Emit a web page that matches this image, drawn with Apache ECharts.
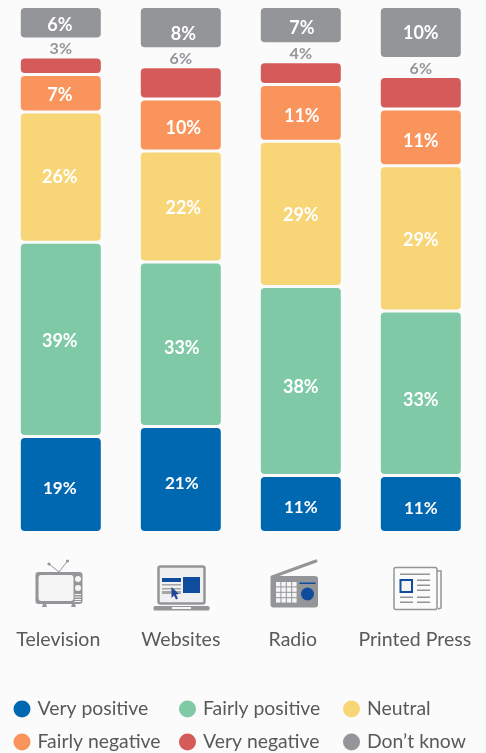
<!DOCTYPE html>
<html><head><meta charset="utf-8">
<style>html,body{margin:0;padding:0;background:#fbfbfb}#c{width:486px;height:753px}</style>
<script src="https://cdn.jsdelivr.net/npm/echarts@6/dist/echarts.min.js"></script>
</head><body><div id="c"></div>
<script>
const categories = ['Television', 'Websites', 'Radio', 'Printed Press'];
const veryPositive = [19, 21, 11, 11];
const fairlyPositive = [39, 33, 38, 33];
const neutral = [26, 22, 29, 29];
const fairlyNegative = [7, 10, 11, 11];
const veryNegative = [3, 6, 4, 6];
const dontKnow = [6, 8, 7, 10];

const FONT = 'Lato';
const BG = '#fbfbfb', GREY = '#939598', TEXT = '#595959', ICON_BLUE = '#0f4c9e';
const GAP = 0.612, LABEL_GAP = 4.286;          // spacers between stacked blocks, in axis units
const nudge = {                               // hand placement of in-bar labels [dx, dy]
  'Very positive':  [[-1,4.5],[1,4],[0,3.5],[0,4.5]],
  'Fairly positive':[[-1,1.5],[1,3.5],[0,6],[0,6.5]],
  'Neutral':        [[-1,0],[2.5,1.5],[0,1.5],[0,1.5]],
  'Fairly negative':[[-1,1.5],[2.5,3],[1,3],[0,3.5]],
  'Don’t know':     [[-1,2.5],[2.5,6.5],[1,3],[0,0.5]]
};
const labelShift = [5, 0, 16, 12];

const spec = [
  ['Very positive', veryPositive, '#0067b1', 17],
  ['Fairly positive', fairlyPositive, '#7fc9a7', 18],
  ['Neutral', neutral, '#f8d678', 18],
  ['Fairly negative', fairlyNegative, '#f8945c', 18],
  ['Very negative', veryNegative, '#d55b5b', 16],
  ['Don’t know', dontKnow, GREY, 18]
];
const series = [];
spec.forEach(function (s, si) {
  const name = s[0], isRed = name === 'Very negative';
  series.push({
    name: name, type: 'bar', stack: 'all', barWidth: 80,
    itemStyle: { color: s[2], borderRadius: 4 },
    emphasis: { disabled: true },
    data: s[1].map(function (v, i) {
      return isRed ? v : { value: v, label: { offset: nudge[name][i] } };
    }),
    label: {
      show: true, position: isRed ? 'top' : 'inside', distance: 1.5,
      formatter: '{c}%', fontFamily: FONT, fontWeight: 'bold', fontSize: s[3],
      color: isRed ? GREY : '#fff'
    }
  });
  if (si < spec.length - 1) {
    series.push({
      name: 'spacer' + si, type: 'bar', stack: 'all', barWidth: 80, silent: true,
      itemStyle: { color: 'transparent' }, label: { show: false },
      data: categories.map(function () { return isRed ? LABEL_GAP : GAP; })
    });
  }
});

function legend(left, top, name) {
  return {
    left: left, top: top, orient: 'horizontal', icon: 'circle',
    itemWidth: 19, itemHeight: 17, data: [name], selectedMode: false,
    textStyle: { fontFamily: FONT, fontSize: 19.4, color: TEXT, lineHeight: 22, padding: [0, 0, 0, 1] }
  };
}
function r(x, y, w, h, fill, rad) {
  return { type: 'rect', shape: { x: x, y: y, width: w, height: h, r: rad || 0 }, style: { fill: fill }, silent: true };
}
function l(x1, y1, x2, y2, c, w) {
  return { type: 'line', shape: { x1: x1, y1: y1, x2: x2, y2: y2 }, style: { stroke: c, lineWidth: w, lineCap: 'round' }, silent: true };
}
function c(cx, cy, rad, fill) {
  return { type: 'circle', shape: { cx: cx, cy: cy, r: rad }, style: { fill: fill }, silent: true };
}
function poly(pts, fill) {
  return { type: 'polygon', shape: { points: pts }, style: { fill: fill }, silent: true };
}
const icons = [];
// television
icons.push(l(59,572,49,564,GREY,1), l(59,572,67.5,561,GREY,1), c(49,564,1.6,GREY), c(67.5,561,1.6,GREY));
icons.push(r(35.5,572,47,32,GREY,3), r(38.5,575,35,26,'#f5f5f5',3), c(78,579,3,'#f5f5f5'), c(78,588,3,'#f5f5f5'));
[594,596.5,599,601].forEach(function (y) { icons.push(r(74.5,y,6.5,1,'#f5f5f5')); });
icons.push(poly([[42,607],[47,607],[46,604],[43,604]],GREY), poly([[71,607],[76,607],[75,604],[72,604]],GREY));
// laptop
icons.push({ type:'rect', shape:{x:158.5,y:566.5,width:46,height:37,r:2}, style:{fill:'#f0f0f0',stroke:GREY,lineWidth:2.5}, silent:true });
icons.push(r(153.5,606,56,4.5,GREY,1.5), r(172,607,19,2,'#f5f5f5'));
icons.push(r(183,577,17,16,ICON_BLUE), r(162,578,19,4,ICON_BLUE), r(162,584,19,1.5,'#a5a5a5'), r(162,588,19,1.5,'#a5a5a5'), r(162,591,19,3,'#a5a5a5'));
icons.push(poly([[171.5,587],[171.5,598],[174,595.5],[176,599.5],[178,598.5],[176,594.5],[179,594]],'#24459a'));
// radio
icons.push(l(272,577,316,561,GREY,3), r(270.5,576,47.5,31.5,GREY,3));
[0,1,2,3].forEach(function (a) { [0,1,2,3].forEach(function (b) {
  icons.push(r(276+a*5.4,582+b*5.4,4.4,4.4,'#f5f5f5'));
}); });
icons.push(r(299.5,582.5,16,1.5,ICON_BLUE), c(307.5,594,6.5,ICON_BLUE));
// newspaper
icons.push({ type:'polyline', shape:{points:[[437,571],[441,571],[441,608],[438,609]]}, style:{fill:'none',stroke:GREY,lineWidth:1.5}, silent:true });
icons.push({ type:'rect', shape:{x:394,y:567.5,width:43,height:42,r:2}, style:{fill:BG,stroke:GREY,lineWidth:1.5}, silent:true });
icons.push(r(400,573.5,30,1.5,GREY));
icons.push({ type:'rect', shape:{x:400.5,y:580,width:11.5,height:12}, style:{fill:'#f5f5f5',stroke:ICON_BLUE,lineWidth:2}, silent:true });
[579.5,584.5,589.5].forEach(function (y) { icons.push(r(417,y,13,1.5,GREY)); });
[596.5,601.5].forEach(function (y) { icons.push(r(400,y,13,1.5,GREY), r(417,y,13,1.5,GREY)); });

const chart = echarts.init(document.getElementById('c'), null, { renderer: 'canvas' });
chart.setOption({
  animation: false,
  backgroundColor: BG,
  grid: { left: 0.8, width: 480, top: 8, bottom: 222 },
  legend: [
    legend(8.5, 693, 'Very positive'),
    legend(8.5, 726, 'Fairly negative'),
    legend(174, 693, 'Fairly positive'),
    legend(174, 726, 'Very negative'),
    legend(338, 693, 'Neutral'),
    legend(338, 726, 'Don’t know')
  ],
  xAxis: {
    type: 'category',
    data: categories.map(function (n, i) {
      return { value: n, textStyle: { padding: [0, labelShift[i], 0, 0] } };
    }),
    axisLine: { show: false }, axisTick: { show: false },
    axisLabel: { margin: 99, fontFamily: FONT, fontSize: 19.5, color: TEXT, interval: 0 }
  },
  yAxis: {
    type: 'value', min: 0, max: 100 + 4 * GAP + LABEL_GAP, show: false,
    splitLine: { show: false }
  },
  graphic: icons,
  series: series
});
</script></body></html>
